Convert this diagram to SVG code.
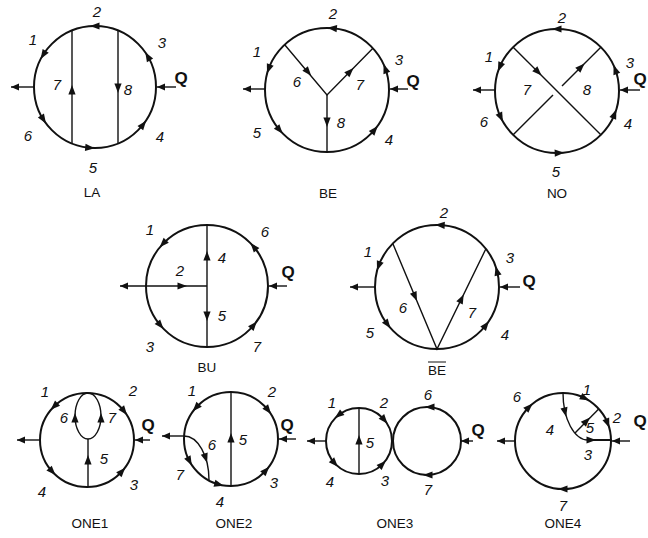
<svg xmlns="http://www.w3.org/2000/svg" xmlns:xlink="http://www.w3.org/1999/xlink" width="648" height="538" viewBox="0 0 648 538">
<style>
.c{fill:none;stroke:#111;stroke-width:2}
.l{fill:none;stroke:#111;stroke-width:1.4}
.o{fill:none;stroke:#111;stroke-width:1.4;marker-end:url(#end)}
.n{font-family:"Liberation Sans",Arial,sans-serif;font-size:15px;font-style:italic;fill:#111;text-anchor:middle}
.q{font-family:"Liberation Sans",Arial,sans-serif;font-size:17px;font-weight:bold;fill:#111;text-anchor:middle}
.t{font-family:"Liberation Sans",Arial,sans-serif;font-size:13.5px;fill:#111;text-anchor:middle}
.a{fill:#111}
</style>
<defs>
<path id="ah" d="M5,0 L-4.5,-3.6 L-4.5,3.6 Z"/>
<marker id="end" markerUnits="userSpaceOnUse" markerWidth="10" markerHeight="8" refX="8" refY="4" orient="auto"><path d="M0,0.6 L8,4 L0,7.4 Z" fill="#111"/></marker>
</defs>
<rect width="648" height="538" fill="#fff"/>

<g id="LA">
<circle class="c" cx="95" cy="87" r="61"/>
<g id="LA-connectors">
<line class="l" x1="72" y1="30.5" x2="72" y2="143.5"/>
<line class="l" x1="118" y1="30.5" x2="118" y2="143.5"/>
<line class="o" x1="34" y1="87" x2="11" y2="87"/>
<line class="o" x1="176" y1="87" x2="157" y2="87"/>
<g class="a">
<use xlink:href="#ah" transform="translate(95,26) rotate(180)"/>
<use xlink:href="#ah" transform="translate(43.3,54.7) rotate(122)"/>
<use xlink:href="#ah" transform="translate(43.3,119.3) rotate(58)"/>
<use xlink:href="#ah" transform="translate(89.7,147.8) rotate(5)"/>
<use xlink:href="#ah" transform="translate(143.1,124.6) rotate(-52)"/>
<use xlink:href="#ah" transform="translate(147.8,56.5) rotate(-120)"/>
<use xlink:href="#ah" transform="translate(72,90) rotate(-90)"/>
<use xlink:href="#ah" transform="translate(118,88) rotate(90)"/>
</g>
</g>
<text class="n" x="97" y="17">2</text><text class="n" x="33" y="45">1</text><text class="n" x="162" y="48">3</text>
<text class="q" x="181" y="84">Q</text><text class="n" x="57" y="90">7</text><text class="n" x="128" y="95">8</text>
<text class="n" x="28" y="141">6</text><text class="n" x="160" y="142">4</text><text class="n" x="93" y="173">5</text>
<text class="t" x="92" y="197">LA</text>
</g>

<g id="BE">
<circle class="c" cx="327" cy="90" r="62"/>
<g id="BE-connectors">
<polyline class="l" points="284.7,44.7 327,95 372.9,48.3"/>
<line class="l" x1="327" y1="95" x2="327" y2="152"/>
<line class="o" x1="265" y1="89" x2="243" y2="89"/>
<line class="o" x1="408" y1="89" x2="390" y2="89"/>
<g class="a">
<use xlink:href="#ah" transform="translate(332.4,28.2) rotate(-175)"/>
<use xlink:href="#ah" transform="translate(268.7,68.8) rotate(110)"/>
<use xlink:href="#ah" transform="translate(279.5,129.9) rotate(50)"/>
<use xlink:href="#ah" transform="translate(374.5,129.9) rotate(-50)"/>
<use xlink:href="#ah" transform="translate(385.3,68.8) rotate(-110)"/>
<use xlink:href="#ah" transform="translate(308,72) rotate(50)"/>
<use xlink:href="#ah" transform="translate(350,71.6) rotate(-45.5)"/>
<use xlink:href="#ah" transform="translate(327,122) rotate(90)"/>
</g>
</g>
<text class="n" x="333" y="19">2</text><text class="n" x="257" y="57">1</text><text class="n" x="399" y="65">3</text>
<text class="q" x="413" y="87">Q</text><text class="n" x="297" y="87">6</text><text class="n" x="360" y="90">7</text>
<text class="n" x="341" y="128">8</text><text class="n" x="257" y="138">5</text><text class="n" x="389" y="145">4</text>
<text class="t" x="328" y="198">BE</text>
</g>

<g id="NO">
<circle class="c" cx="557" cy="91" r="62"/>
<g id="NO-connectors">
<line class="l" x1="513.2" y1="47.2" x2="600.8" y2="134.8"/>
<line class="l" x1="513.2" y1="134.8" x2="553" y2="95"/>
<line class="l" x1="562" y1="86" x2="600.8" y2="47.2"/>
<line class="o" x1="495" y1="90" x2="473" y2="90"/>
<line class="o" x1="640" y1="90" x2="620" y2="90"/>
<g class="a">
<use xlink:href="#ah" transform="translate(557,29) rotate(180)"/>
<use xlink:href="#ah" transform="translate(499.9,66.8) rotate(113)"/>
<use xlink:href="#ah" transform="translate(500.8,117.2) rotate(65)"/>
<use xlink:href="#ah" transform="translate(559.2,153) rotate(-2)"/>
<use xlink:href="#ah" transform="translate(614.5,114.2) rotate(-68)"/>
<use xlink:href="#ah" transform="translate(615.3,69.8) rotate(-110)"/>
<use xlink:href="#ah" transform="translate(538,72) rotate(45)"/>
<use xlink:href="#ah" transform="translate(581,67) rotate(-45)"/>
</g>
</g>
<text class="n" x="562" y="23">2</text><text class="n" x="489" y="62">1</text><text class="n" x="630" y="68">3</text>
<text class="q" x="640" y="85">Q</text><text class="n" x="527" y="95">7</text><text class="n" x="587" y="95">8</text>
<text class="n" x="484" y="127">6</text><text class="n" x="628" y="129">4</text><text class="n" x="556" y="177">5</text>
<text class="t" x="557" y="198">NO</text>
</g>

<g id="BU">
<circle class="c" cx="207" cy="286" r="61"/>
<g id="BU-connectors">
<line class="l" x1="207" y1="225" x2="207" y2="347"/>
<line class="o" x1="207" y1="286" x2="120" y2="286"/>
<line class="o" x1="287" y1="286" x2="269" y2="286"/>
<g class="a">
<use xlink:href="#ah" transform="translate(163.1,243.6) rotate(134)"/>
<use xlink:href="#ah" transform="translate(160.3,325.2) rotate(50)"/>
<use xlink:href="#ah" transform="translate(253.7,325.2) rotate(-50)"/>
<use xlink:href="#ah" transform="translate(253.7,246.8) rotate(-130)"/>
<use xlink:href="#ah" transform="translate(207,256) rotate(-90)"/>
<use xlink:href="#ah" transform="translate(207,316) rotate(90)"/>
<use xlink:href="#ah" transform="translate(182,286) rotate(0)"/>
</g>
</g>
<text class="n" x="150" y="235">1</text><text class="n" x="265" y="237">6</text><text class="n" x="180" y="276">2</text>
<text class="n" x="222" y="263">4</text><text class="q" x="288" y="278">Q</text><text class="n" x="222" y="321">5</text>
<text class="n" x="150" y="352">3</text><text class="n" x="257" y="352">7</text>
<text class="t" x="207" y="372">BU</text>
</g>

<g id="BEbar">
<circle class="c" cx="437" cy="287" r="62"/>
<g id="BEbar-connectors">
<polyline class="l" points="393,244 437,349 485.9,248.8"/>
<line class="o" x1="375" y1="287" x2="350" y2="287"/>
<line class="o" x1="520" y1="287" x2="500" y2="287"/>
<g class="a">
<use xlink:href="#ah" transform="translate(440.2,225.1) rotate(-177)"/>
<use xlink:href="#ah" transform="translate(378.7,265.8) rotate(110)"/>
<use xlink:href="#ah" transform="translate(387.5,324.3) rotate(53)"/>
<use xlink:href="#ah" transform="translate(485.9,325.2) rotate(-52)"/>
<use xlink:href="#ah" transform="translate(496.9,271) rotate(-105)"/>
<use xlink:href="#ah" transform="translate(415,296.5) rotate(67.3)"/>
<use xlink:href="#ah" transform="translate(461.5,298.9) rotate(-64)"/>
</g>
</g>
<text class="n" x="444" y="218">2</text><text class="n" x="368" y="257">1</text><text class="n" x="510" y="263">3</text>
<text class="q" x="529" y="287">Q</text><text class="n" x="403" y="313">6</text><text class="n" x="472" y="318">7</text>
<text class="n" x="370" y="338">5</text><text class="n" x="505" y="340">4</text>
<text class="t" x="437" y="375">BE</text>
<line x1="428" y1="362" x2="446" y2="362" stroke="#111" stroke-width="1"/>
</g>

<g id="ONE1">
<circle class="c" cx="87" cy="440" r="47"/>
<g id="ONE1-connectors">
<ellipse class="l" cx="88" cy="416" rx="13" ry="23"/>
<line class="l" x1="88" y1="439" x2="88" y2="487"/>
<line class="o" x1="40" y1="440" x2="17" y2="440"/>
<line class="o" x1="150" y1="440" x2="135" y2="440"/>
<g class="a">
<use xlink:href="#ah" transform="translate(54.3,406.2) rotate(136)"/>
<use xlink:href="#ah" transform="translate(52.1,471.4) rotate(48)"/>
<use xlink:href="#ah" transform="translate(121.9,471.4) rotate(-48)"/>
<use xlink:href="#ah" transform="translate(124,411) rotate(52)"/>
<use xlink:href="#ah" transform="translate(75,418) rotate(-90)"/>
<use xlink:href="#ah" transform="translate(101,418) rotate(-90)"/>
<use xlink:href="#ah" transform="translate(88,460) rotate(-90)"/>
</g>
</g>
<text class="n" x="45" y="397">1</text><text class="n" x="133" y="396">2</text><text class="n" x="64" y="423">6</text>
<text class="n" x="112" y="423">7</text><text class="q" x="148" y="431">Q</text><text class="n" x="104" y="464">5</text>
<text class="n" x="42" y="497">4</text><text class="n" x="134" y="490">3</text>
<text class="t" x="90" y="528">ONE1</text>
</g>

<g id="ONE2">
<circle class="c" cx="231" cy="439" r="47"/>
<g id="ONE2-connectors">
<line class="l" x1="231" y1="392" x2="231" y2="486"/>
<path class="l" d="M184,436 A25,44 0 0 1 209,480"/>
<line class="o" x1="184" y1="436" x2="162" y2="436"/>
<line class="o" x1="296" y1="439" x2="279" y2="439"/>
<g class="a">
<use xlink:href="#ah" transform="translate(196.1,407.6) rotate(132)"/>
<use xlink:href="#ah" transform="translate(189.5,461) rotate(62)"/>
<use xlink:href="#ah" transform="translate(218.8,484.4) rotate(15)"/>
<use xlink:href="#ah" transform="translate(265.9,470.4) rotate(-48)"/>
<use xlink:href="#ah" transform="translate(268,410) rotate(52)"/>
<use xlink:href="#ah" transform="translate(231,438) rotate(-90)"/>
<use xlink:href="#ah" transform="translate(205.6,458) rotate(72)"/>
</g>
</g>
<text class="n" x="192" y="396">1</text><text class="n" x="272" y="397">2</text><text class="n" x="212" y="450">6</text>
<text class="n" x="243" y="445">5</text><text class="q" x="287" y="431">Q</text><text class="n" x="180" y="480">7</text>
<text class="n" x="220" y="507">4</text><text class="n" x="274" y="488">3</text>
<text class="t" x="234" y="528">ONE2</text>
</g>

<g id="ONE3">
<circle class="c" cx="359" cy="441" r="33"/>
<circle class="c" cx="427" cy="441" r="34"/>
<g id="ONE3-connectors">
<line class="l" x1="359" y1="408" x2="359" y2="474"/>
<line class="o" x1="326" y1="441" x2="307" y2="441"/>
<line class="o" x1="473" y1="441" x2="461" y2="441"/>
<g class="a">
<use xlink:href="#ah" transform="translate(338.7,415) rotate(142)"/>
<use xlink:href="#ah" transform="translate(334.5,463.1) rotate(48)"/>
<use xlink:href="#ah" transform="translate(384.3,419.8) rotate(50)"/>
<use xlink:href="#ah" transform="translate(382.3,464.3) rotate(-45)"/>
<use xlink:href="#ah" transform="translate(359,440) rotate(-90)"/>
<use xlink:href="#ah" transform="translate(430,407) rotate(180)"/>
<use xlink:href="#ah" transform="translate(428,475) rotate(180)"/>
</g>
</g>
<text class="n" x="332" y="408">1</text><text class="n" x="384" y="408">2</text><text class="n" x="428" y="400">6</text>
<text class="q" x="478" y="436">Q</text><text class="n" x="370" y="448">5</text><text class="n" x="330" y="487">4</text>
<text class="n" x="385" y="486">3</text><text class="n" x="428" y="495">7</text>
<text class="t" x="395" y="528">ONE3</text>
</g>

<g id="ONE4">
<circle class="c" cx="563" cy="441" r="48"/>
<g id="ONE4-connectors">
<path class="l" d="M563,393 A25,47 0 0 0 588,440"/>
<line x1="588" y1="440" x2="612" y2="440" stroke="#111" stroke-width="2"/>
<line class="l" x1="575" y1="433" x2="598.7" y2="408.9"/>
<line class="o" x1="515" y1="441" x2="497" y2="441"/>
<line class="o" x1="630" y1="441" x2="612" y2="441"/>
<g class="a">
<use xlink:href="#ah" transform="translate(584.8,398.2) rotate(27)"/>
<use xlink:href="#ah" transform="translate(607.5,423) rotate(68)"/>
<use xlink:href="#ah" transform="translate(529,407) rotate(-45)"/>
<use xlink:href="#ah" transform="translate(563,489) rotate(180)"/>
<use xlink:href="#ah" transform="translate(565,412) rotate(77)"/>
<use xlink:href="#ah" transform="translate(586.5,421) rotate(-46)"/>
<use xlink:href="#ah" transform="translate(591,440) rotate(0)"/>
</g>
</g>
<text class="n" x="587" y="395">1</text><text class="n" x="617" y="423">2</text><text class="n" x="517" y="402">6</text>
<text class="n" x="550" y="435">4</text><text class="n" x="590" y="433">5</text><text class="q" x="640" y="427">Q</text>
<text class="n" x="588" y="460">3</text><text class="n" x="563" y="511">7</text>
<text class="t" x="563" y="528">ONE4</text>
</g>
</svg>
